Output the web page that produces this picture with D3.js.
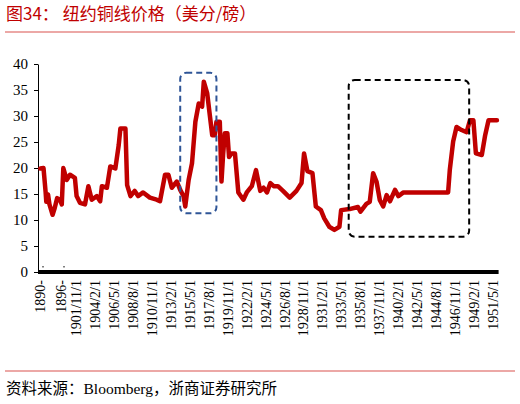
<!DOCTYPE html>
<html><head><meta charset="utf-8">
<script src="https://cdn.jsdelivr.net/npm/d3@7"></script>
<style>body{margin:0;background:#fff}svg{display:block}</style>
</head><body>
<script>
const years = [1890.1,1891.0,1891.6,1891.8,1892.3,1892.7,1893.6,1894.2,1894.9,1895.7,1896.3,1896.9,1898.2,1899.5,1901.4,1901.9,1902.3,1902.9,1903.3,1903.7,1904.3,1904.7,1904.9,1905.5,1905.9,1906.5,1906.9,1907.1,1907.7,1907.9,1908.3,1908.8,1909.2,1909.8,1910.6,1911.4,1911.8,1912.4,1912.8,1913.2,1913.8,1914.2,1914.6,1914.8,1915.2,1915.6,1916.0,1916.4,1916.8,1917.0,1917.4,1918.0,1918.3,1918.5,1918.9,1919.1,1919.3,1919.5,1919.8,1920.0,1920.3,1920.7,1921.1,1921.7,1922.1,1922.7,1923.2,1923.7,1924.1,1924.5,1924.9,1925.3,1925.8,1926.4,1927.2,1928.0,1928.6,1928.9,1929.3,1929.9,1930.3,1930.9,1931.3,1931.9,1932.5,1933.1,1933.3,1934.3,1935.3,1935.6,1936.3,1936.7,1937.1,1937.5,1937.9,1938.3,1938.7,1939.1,1939.7,1940.1,1940.7,1946.0,1946.2,1946.6,1947.0,1947.6,1948.2,1948.6,1949.0,1949.3,1950.0,1950.4,1950.8,1951.8];
const prices = [19.9,20,15.4,13.5,14.9,13,11,12.3,14.2,13.9,13,20,17.7,18.7,18.1,14.6,13.3,13,16.5,13.9,14.6,13.6,16.5,16.2,20.3,19.9,24.4,27.6,27.6,16.7,14.6,15.6,14.6,15.3,14.3,13.9,13.6,18.7,18.7,16.2,17.4,15.8,14.6,12.6,17.7,20.9,28.9,32.4,31.8,36.6,34.4,26.3,26.3,28.9,28.9,17.4,22.8,26.7,26.7,22.1,22.8,22.8,15.3,13.9,15.3,16.5,19.6,15.6,16.2,15.3,17.1,16.5,16.5,15.6,14.3,15.6,17.1,22.8,19.4,19,12.6,11.9,10.3,8.7,8.1,8.7,11.9,12.1,12.5,11.6,13.1,13.5,19,17.4,13.8,12.6,14.8,13.6,15.8,14.6,15.3,15.3,19.6,25.1,27.9,27.3,26.9,29.2,29.2,22.8,22.5,26.3,29.2,29.2];
const tickLabels = ["1890-","1896-","1901/11/1","1904/2/1","1906/5/1","1908/8/1","1910/11/1","1913/2/1","1915/5/1","1917/8/1","1919/11/1","1922/2/1","1924/5/1","1926/8/1","1928/11/1","1931/2/1","1933/5/1","1935/8/1","1937/11/1","1940/2/1","1942/5/1","1944/8/1","1946/11/1","1949/2/1","1951/5/1"];
const tickYears = [1890,1896,1901.83,1904.08,1906.33,1908.58,1910.83,1913.08,1915.33,1917.58,1919.83,1922.08,1924.33,1926.58,1928.83,1931.08,1933.33,1935.58,1937.83,1940.08,1942.33,1944.58,1946.83,1949.08,1951.33];
const yTicks = [0,5,10,15,20,25,30,35,40];

const W=520,H=404;
const svg=d3.select("body").append("svg").attr("width",W).attr("height",H);
const x=d3.scaleLinear().domain([1890,1896,1901.83,1951.33,1952]).range([40,61,76,493,498.6]);
const y=d3.scaleLinear().domain([0,40]).range([272,64]);
const red="#c00000";

svg.append("text").attr("x",6).attr("y",20).attr("fill",red).attr("font-size",17)
  .attr("font-family","'Noto Sans CJK SC'").text("图34：  纽约铜线价格（美分/磅）");
svg.append("line").attr("x1",5).attr("x2",515).attr("y1",32).attr("y2",32).attr("stroke","#d9534f").attr("stroke-width",1.2);
svg.append("line").attr("x1",5).attr("x2",515).attr("y1",371).attr("y2",371).attr("stroke","#d9534f").attr("stroke-width",1.2);
svg.append("text").attr("x",6).attr("y",394).attr("font-size",15.5).attr("font-family","'Noto Sans CJK SC'")
  .text("资料来源：").append("tspan").attr("font-family","'Liberation Serif'").text("Bloomberg")
  .select(function(){return this.parentNode;}).append("tspan").text("，浙商证券研究所");

const ya=svg.append("g").attr("transform","translate(38,0)")
  .call(d3.axisLeft(y).tickValues(yTicks).tickSize(4).tickSizeOuter(0));
ya.select(".domain").attr("stroke","#000");
ya.selectAll("text").attr("font-family","'Liberation Serif'").attr("font-size",15).attr("fill","#000").attr("dx",-3);

svg.append("line").attr("x1",38).attr("x2",498.6).attr("y1",y(0)).attr("y2",y(0)).attr("stroke","#000").attr("stroke-width",4);
svg.selectAll(".dot").data(tickYears.slice(0,2)).join("line").attr("x1",d=>x(d)+3).attr("x2",d=>x(d)+3)
  .attr("y1",266).attr("y2",267.5).attr("stroke","#000");
svg.append("clipPath").attr("id","lc").append("rect").attr("x",0).attr("y",275).attr("width",W).attr("height",71);
const lg=svg.append("g").attr("clip-path","url(#lc)");
lg.selectAll("text").data(tickLabels).join("text")
  .attr("transform",(d,i)=>`translate(${x(tickYears[i])+5},${280}) rotate(-90)`)
  .attr("text-anchor","end").attr("font-family","'Liberation Serif'").attr("font-size",14).text(d=>d);

const data=years.map((d,i)=>[d,prices[i]]);
svg.append("path").datum(data).attr("fill","none").attr("stroke",red).attr("stroke-width",4.5)
  .attr("stroke-linejoin","round").attr("stroke-linecap","round")
  .attr("d",d3.line().x(d=>x(d[0])).y(d=>y(d[1])));

function box(y0,y1,v0,v1,col){
  svg.append("rect").attr("x",x(y0)).attr("y",y(v0)).attr("width",x(y1)-x(y0)).attr("height",y(v1)-y(v0))
   .attr("rx",6).attr("fill","none").attr("stroke",col).attr("stroke-width",2).attr("stroke-dasharray","6,4");
}
box(1914.2,1918.5,38.3,11.3,"#2f5597");
box(1934.2,1948.5,36.9,6.8,"#000");
</script>
</body></html>
